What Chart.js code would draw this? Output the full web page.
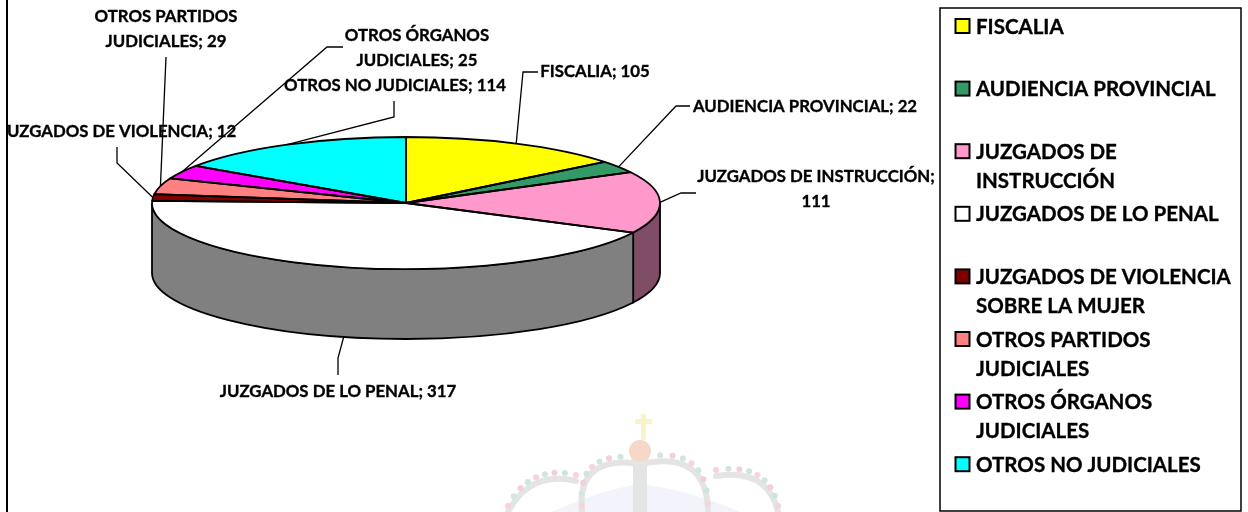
<!DOCTYPE html>
<html>
<head>
<meta charset="utf-8">
<script src="https://cdn.jsdelivr.net/npm/chart.js@4"></script>
<style>
  html, body { margin: 0; padding: 0; background: #fff; }
  #wrap { position: relative; width: 1248px; height: 512px; overflow: hidden; }
</style>
</head>
<body>
<div id="wrap"><canvas id="canvas" width="1248" height="512"></canvas></div>
<script>
const categories = ['FISCALIA', 'AUDIENCIA PROVINCIAL', 'JUZGADOS DE INSTRUCCIÓN', 'JUZGADOS DE LO PENAL',
  'JUZGADOS DE VIOLENCIA SOBRE LA MUJER', 'OTROS PARTIDOS JUDICIALES', 'OTROS ÓRGANOS JUDICIALES', 'OTROS NO JUDICIALES']
const values = [105, 22, 111, 317, 12, 29, 25, 114]
const colors = ['#ffff00', '#339966', '#ff99cc', '#ffffff', '#800000', '#ff8080', '#ff00ff', '#00ffff']

// how the legend breaks each name
const legendLines = [
  ['FISCALIA'], ['AUDIENCIA PROVINCIAL'], ['JUZGADOS DE', 'INSTRUCCIÓN'], ['JUZGADOS DE LO PENAL'],
  ['JUZGADOS DE VIOLENCIA', 'SOBRE LA MUJER'], ['OTROS PARTIDOS', 'JUDICIALES'], ['OTROS ÓRGANOS', 'JUDICIALES'], ['OTROS NO JUDICIALES'],
]
// how the data labels read
const labelLines = [
  ['FISCALIA; 105'], ['AUDIENCIA PROVINCIAL; 22'], ['JUZGADOS DE INSTRUCCIÓN;', '111'], ['JUZGADOS DE LO PENAL; 317'],
  ['JUZGADOS DE VIOLENCIA; 12'], ['OTROS PARTIDOS', 'JUDICIALES; 29'], ['OTROS ÓRGANOS', 'JUDICIALES; 25'], ['OTROS NO JUDICIALES; 114'],
]
// label centre and leader bends, one per slice
const labelBoxes = [
  {x: 595, y: 72, bends: [[523, 72], [538, 72]]},
  {x: 805, y: 107, bends: [[676, 106], [690, 106]]},
  {x: 816, y: 177, bends: [[681, 193], [696, 193]]},
  {x: 338, y: 392, bends: [[338, 358], [338, 375]]},
  {x: 118, y: 132, bends: [[117, 163], [117, 147]]},
  {x: 166, y: 17, bends: [[166, 57]]},
  {x: 417, y: 36, bends: [[327, 47], [343, 47]]},
  {x: 395, y: 86, bends: [[394, 117], [394, 101]]},
]

const FONT = 'Lato, Carlito, Calibri, sans-serif'
const PIE = {cx: 406, cy: 203, ry: 66, depth: 70}
const LEGEND = {x: 940, y: 8, w: 301, h: 503, first: 26, step: 62.6, lineGap: 29}

function shade(hex) {
  const n = parseInt(hex.slice(1), 16)
  return `rgb(${(n >> 16) / 2},${((n >> 8) & 255) / 2},${(n & 255) / 2})`
}

// y position of the flattened pie relative to the round one the library lays out
function flatten(ctx, el) {
  ctx.translate(PIE.cx, PIE.cy)
  ctx.scale(1, PIE.ry / el.outerRadius)
  ctx.translate(-el.x, -el.y)
}

function sideWall(ctx, el, color) {
  const a0 = Math.max(el.startAngle, 0)
  const a1 = Math.min(el.endAngle, Math.PI)
  if (a1 <= a0) return
  const rx = el.outerRadius
  ctx.beginPath()
  ctx.ellipse(PIE.cx, PIE.cy, rx, PIE.ry, 0, a0, a1)
  ctx.ellipse(PIE.cx, PIE.cy + PIE.depth, rx, PIE.ry, 0, a1, a0, true)
  ctx.closePath()
  ctx.fillStyle = color
  ctx.fill()
  ctx.lineWidth = 1.8
  ctx.strokeStyle = '#000'
  ctx.stroke()
}

// bold text, thickened a little to match the heavier face of the original
function heavyText(ctx, text, x, y) {
  ctx.fillText(text, x, y)
  ctx.lineWidth = 0.35
  ctx.strokeStyle = '#000'
  ctx.strokeText(text, x, y)
}

const crown = [
  [[508, 512], [530, 470], [576, 481]],
  [[582, 512], [576, 458], [634, 463]],
  [[646, 463], [706, 452], [708, 510]],
  [[716, 476], [768, 468], [778, 512]],
]
const beadColors = ['#f5d5da', '#d3e6dc', '#f3cfd6', '#cfe4dc']

const watermark = {
  id: 'watermark',
  beforeDraw(chart) {
    const ctx = chart.ctx
    ctx.save()
    ctx.fillStyle = '#f3f3fb'
    ctx.beginPath()
    ctx.moveTo(552, 512)
    ctx.quadraticCurveTo(600, 490, 640, 484)
    ctx.quadraticCurveTo(690, 490, 740, 512)
    ctx.fill()
    ctx.lineCap = 'round'
    crown.forEach(([p0, p1, p2]) => {
      ctx.strokeStyle = '#e4e4e4'
      ctx.lineWidth = 6
      ctx.beginPath()
      ctx.moveTo(p0[0], p0[1])
      ctx.quadraticCurveTo(p1[0], p1[1], p2[0], p2[1])
      ctx.stroke()
      for (let i = 0; i <= 8; i++) {
        const t = i / 8, u = 1 - t
        const x = u * u * p0[0] + 2 * u * t * p1[0] + t * t * p2[0]
        const y = u * u * p0[1] + 2 * u * t * p1[1] + t * t * p2[1]
        ctx.fillStyle = beadColors[i % 4]
        ctx.beginPath()
        ctx.arc(x, y - 6, 3, 0, Math.PI * 2)
        ctx.fill()
      }
    })
    ctx.fillStyle = '#e4e6e6'
    ctx.fillRect(633, 462, 14, 50)
    ctx.fillStyle = '#f7d8c8'
    ctx.beginPath()
    ctx.arc(640, 451, 11, 0, Math.PI * 2)
    ctx.fill()
    ctx.fillStyle = '#fbf3c8'
    ctx.fillRect(641, 414, 5, 26)
    ctx.fillRect(635, 419, 17, 5)
    ctx.restore()
  },
}

const pie3d = {
  id: 'pie3d',
  beforeDatasetsDraw(chart) {
    const ctx = chart.ctx
    const arcs = chart.getDatasetMeta(0).data
    arcs.forEach((el, i) => sideWall(ctx, el, shade(colors[i])))
    ctx.save()
    flatten(ctx, arcs[0])
  },
  afterDatasetsDraw(chart) {
    const ctx = chart.ctx
    ctx.restore()
    const arcs = chart.getDatasetMeta(0).data
    ctx.save()
    ctx.lineWidth = 1.8
    ctx.strokeStyle = '#000'
    ctx.lineJoin = 'round'
    arcs.forEach(el => {
      ctx.beginPath()
      ctx.moveTo(PIE.cx, PIE.cy)
      ctx.ellipse(PIE.cx, PIE.cy, el.outerRadius, PIE.ry, 0, el.startAngle, el.endAngle)
      ctx.closePath()
      ctx.stroke()
    })
    ctx.restore()
  },
}

const labels3d = {
  id: 'labels3d',
  afterDraw(chart) {
    const ctx = chart.ctx
    const arcs = chart.getDatasetMeta(0).data
    ctx.save()
    ctx.strokeStyle = '#000'
    ctx.lineWidth = 1.3
    arcs.forEach((el, i) => {
      const mid = (el.startAngle + el.endAngle) / 2
      let y = PIE.cy + PIE.ry * Math.sin(mid)
      if (Math.sin(mid) > 0.5) y += PIE.depth   // leader leaves the front wall
      ctx.beginPath()
      ctx.moveTo(PIE.cx + el.outerRadius * Math.cos(mid), y)
      labelBoxes[i].bends.forEach(b => ctx.lineTo(b[0], b[1]))
      ctx.stroke()
    })

    // frame, the first label runs under it
    ctx.fillStyle = '#000'
    ctx.fillRect(6, 0, 2, 512)

    ctx.beginPath()
    ctx.rect(8, 0, 1240, 512)
    ctx.clip()
    ctx.fillStyle = '#000'
    ctx.font = `bold 16.8px ${FONT}`
    ctx.textAlign = 'center'
    ctx.textBaseline = 'middle'
    labelLines.forEach((lines, i) => {
      lines.forEach((line, k) => heavyText(ctx, line, labelBoxes[i].x, labelBoxes[i].y + k * 25))
    })
    ctx.restore()

    // legend box
    ctx.save()
    ctx.strokeStyle = '#000'
    ctx.lineWidth = 1.5
    ctx.strokeRect(LEGEND.x, LEGEND.y, LEGEND.w, LEGEND.h)
    ctx.font = `bold 20.5px ${FONT}`
    ctx.textBaseline = 'middle'
    categories.forEach((name, i) => {
      const y = LEGEND.first + i * LEGEND.step
      ctx.lineWidth = 2
      ctx.strokeStyle = '#000'
      ctx.fillStyle = colors[i]
      ctx.fillRect(955.5, y - 7, 14, 14)
      ctx.strokeRect(955.5, y - 7, 14, 14)
      ctx.fillStyle = '#000'
      legendLines[i].forEach((line, k) => heavyText(ctx, line, 976, y + 1 + k * LEGEND.lineGap))
    })
    ctx.restore()
  },
}

new Chart(document.getElementById('canvas').getContext('2d'), {
  type: 'pie',
  data: {
    labels: categories,
    datasets: [{data: values, backgroundColor: colors, borderWidth: 0}],
  },
  options: {
    responsive: false,
    animation: false,
    // round pie of radius 254, pie3d flattens and moves it
    layout: {padding: {left: 152, right: 588, top: 2, bottom: 2}},
    plugins: {legend: {display: false}, tooltip: {enabled: false}},
  },
  plugins: [watermark, pie3d, labels3d],
})
</script>
</body>
</html>
